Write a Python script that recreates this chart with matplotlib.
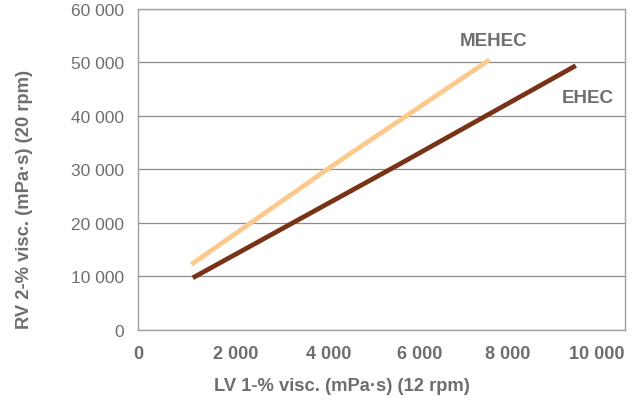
import matplotlib.pyplot as plt
import matplotlib.transforms as mtransforms
from matplotlib.ticker import FuncFormatter

# Datos
mehec_x = [1100, 4000, 7220]
mehec_y = [12200, 30700, 50500]
ehec_x = [1130, 5320, 8990]
ehec_y = [9700, 30700, 49400]

x_ticks = [0, 2000, 4000, 6000, 8000, 10000]
y_ticks = [0, 10000, 20000, 30000, 40000, 50000, 60000]

gray = '#6d6e71'
plt.rcParams['font.family'] = ['Liberation Sans', 'DejaVu Sans']

fig = plt.figure(figsize=(6.44, 4.06), dpi=100)
ax = fig.add_axes([0.2138, 0.1855, 0.7567, 0.7899])

ax.plot(mehec_x, mehec_y, color='#fdc98a', lw=3.4, solid_capstyle='butt', zorder=3)
ax.plot(ehec_x, ehec_y, color='#7a3217', lw=3.4, solid_capstyle='butt', zorder=3)

ax.text(7310, 54100, 'MEHEC', color=gray, fontsize=13.5, fontweight='bold', ha='center', va='center')
ax.text(9230, 43450, 'EHEC', color=gray, fontsize=13.5, fontweight='bold', ha='center', va='center')

ax.set_xlim(0, 10000)
ax.set_ylim(0, 60000)
ax.set_xticks(x_ticks)
ax.set_yticks(y_ticks)

fmt = FuncFormatter(lambda v, p: f'{int(v):,}'.replace(',', ' '))
ax.xaxis.set_major_formatter(fmt)
ax.yaxis.set_major_formatter(fmt)

ax.grid(axis='y', color='#8c8c8c', lw=0.9)
ax.set_axisbelow(True)
for s in ax.spines.values():
    s.set_color('#a0a0a0')
    s.set_linewidth(1.0)

ax.tick_params(axis='both', length=0)
ax.tick_params(axis='y', pad=10, labelsize=12.5, labelcolor=gray)
ax.tick_params(axis='x', pad=11, labelsize=13, labelcolor=gray)

# en el original las etiquetas del eje x se corren hacia la izquierda
shifts = [1, 1, -4, -10, -20, -28]
for lbl, dx in zip(ax.get_xticklabels(), shifts):
    lbl.set_fontweight('bold')
    lbl.set_transform(lbl.get_transform() + mtransforms.ScaledTranslation(dx / 100, 0, fig.dpi_scale_trans))

ax.set_xlabel('LV 1-% visc. (mPa·s) (12 rpm)', color=gray, fontsize=13.2, fontweight='bold')
ax.set_ylabel('RV 2-% visc. (mPa·s) (20 rpm)', color=gray, fontsize=13.2, fontweight='bold')
ax.xaxis.set_label_coords(0.42, -0.148)
ax.yaxis.set_label_coords(-0.215, 0.41)

plt.savefig('out.png', dpi=100)
plt.close()
